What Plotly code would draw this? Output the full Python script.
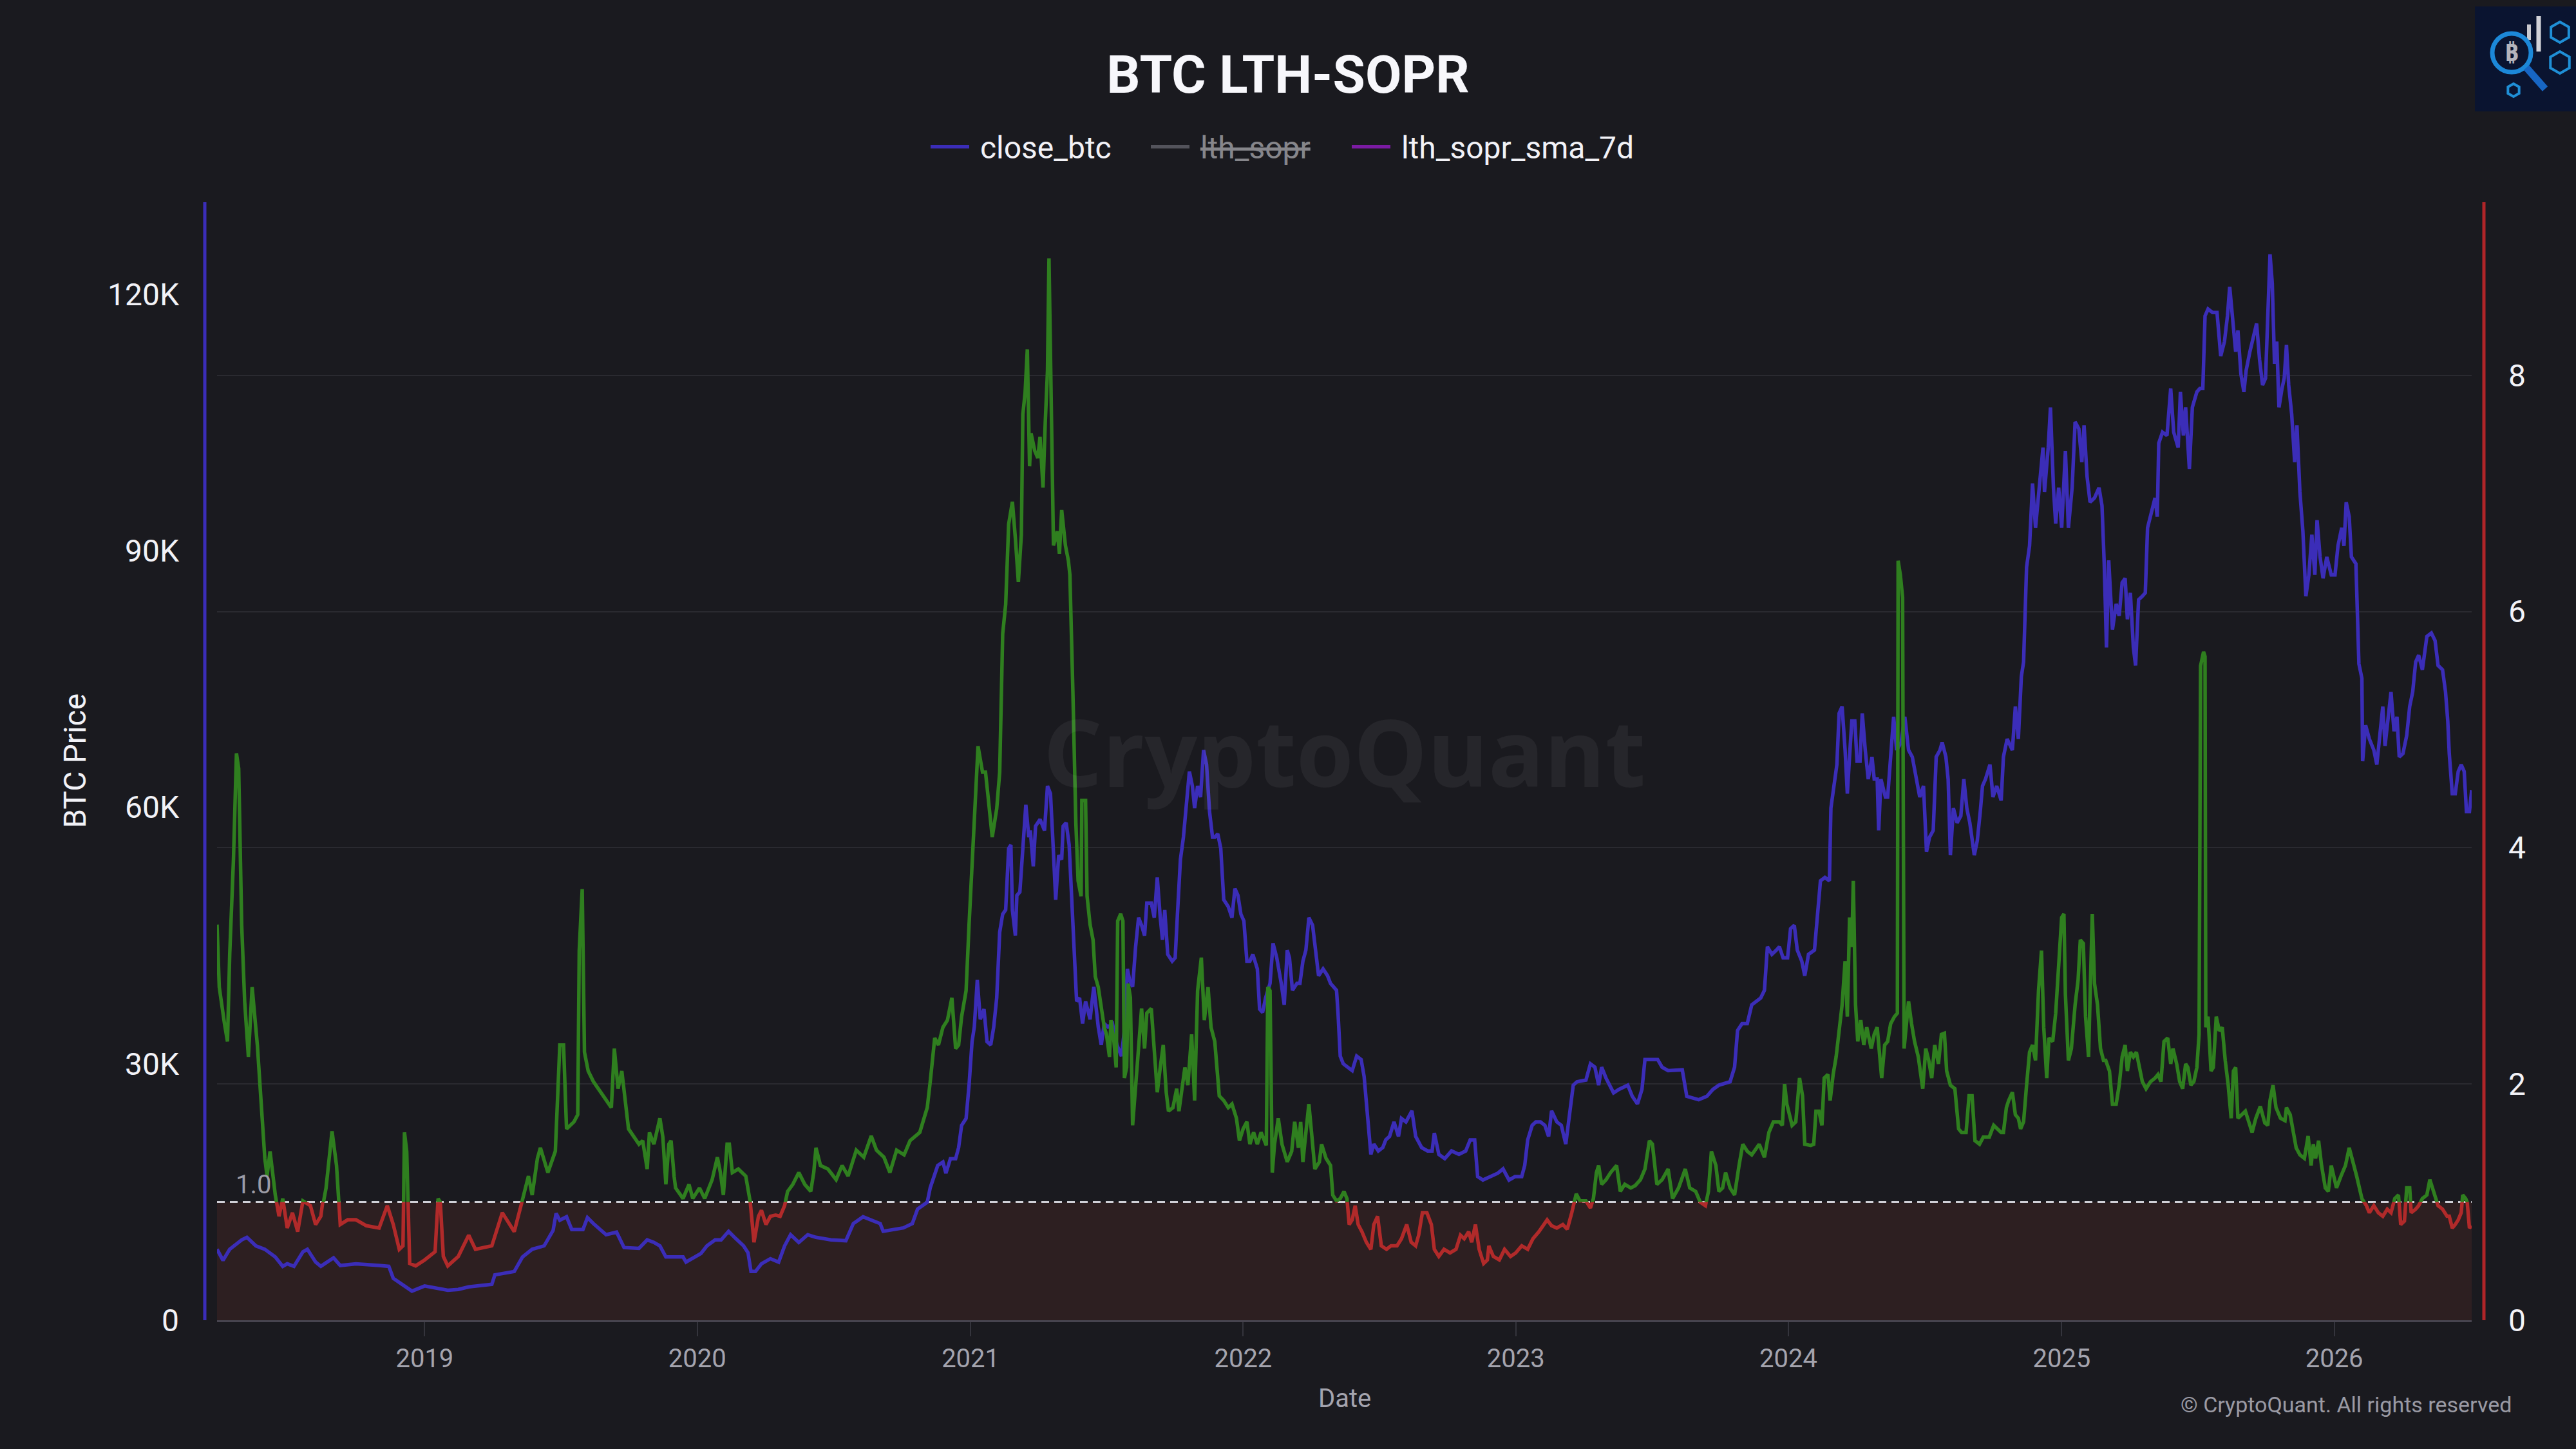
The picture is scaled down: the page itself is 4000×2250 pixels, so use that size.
import math
import plotly.graph_objects as go

# %% 1. Data (dates, BTC close in USD, LTH-SOPR 7d SMA)
close_btc = [
    ("2018-03-29", 8300), ("2018-04-06", 7000), ("2018-04-15", 8300), ("2018-05-01", 9400),
    ("2018-05-08", 9700), ("2018-05-20", 8700), ("2018-06-01", 8300), ("2018-06-15", 7400),
    ("2018-06-25", 6300), ("2018-07-01", 6600), ("2018-07-10", 6300), ("2018-07-22", 8000),
    ("2018-07-28", 8300), ("2018-08-08", 6800), ("2018-08-15", 6300), ("2018-09-01", 7300),
    ("2018-09-10", 6400), ("2018-10-01", 6600), ("2018-11-01", 6400), ("2018-11-14", 6300),
    ("2018-11-20", 4900), ("2018-12-01", 4200), ("2018-12-15", 3400), ("2019-01-01", 4000),
    ("2019-01-15", 3800), ("2019-02-01", 3500), ("2019-02-15", 3600), ("2019-03-01", 3900),
    ("2019-04-01", 4200), ("2019-04-05", 5300), ("2019-05-01", 5700), ("2019-05-12", 7400),
    ("2019-05-25", 8300), ("2019-06-10", 8700), ("2019-06-22", 10500), ("2019-06-26", 12500),
    ("2019-07-01", 11700), ("2019-07-10", 12100), ("2019-07-17", 10600), ("2019-08-01", 10600),
    ("2019-08-07", 12000), ("2019-08-15", 11300), ("2019-09-01", 10000), ("2019-09-15", 10300),
    ("2019-09-25", 8500), ("2019-10-15", 8400), ("2019-10-26", 9400), ("2019-11-04", 9100),
    ("2019-11-12", 8700), ("2019-11-20", 7400), ("2019-12-01", 7400), ("2019-12-13", 7400),
    ("2019-12-17", 6800), ("2019-12-26", 7200), ("2020-01-06", 7800), ("2020-01-14", 8700),
    ("2020-01-25", 9400), ("2020-02-02", 9400), ("2020-02-12", 10400), ("2020-02-21", 9600),
    ("2020-03-03", 8700), ("2020-03-09", 7900), ("2020-03-13", 5700), ("2020-03-19", 5700),
    ("2020-03-27", 6600), ("2020-04-08", 7200), ("2020-04-19", 6800), ("2020-04-27", 8700),
    ("2020-05-05", 10000), ("2020-05-16", 9100), ("2020-05-28", 10000), ("2020-06-08", 9700),
    ("2020-06-28", 9400), ("2020-07-18", 9300), ("2020-07-28", 11300), ("2020-08-10", 12100),
    ("2020-08-22", 11700), ("2020-09-02", 11300), ("2020-09-06", 10400), ("2020-09-18", 10600),
    ("2020-10-03", 10800), ("2020-10-15", 11300), ("2020-10-22", 13000), ("2020-11-04", 13800),
    ("2020-11-08", 15500), ("2020-11-18", 18100), ("2020-11-25", 18500), ("2020-11-29", 17200),
    ("2020-12-05", 18900), ("2020-12-12", 18900), ("2020-12-16", 20200), ("2020-12-20", 22800),
    ("2020-12-26", 23600), ("2020-12-30", 27500), ("2021-01-03", 32600), ("2021-01-06", 34300),
    ("2021-01-10", 39800), ("2021-01-14", 35200), ("2021-01-19", 36400), ("2021-01-23", 32600),
    ("2021-01-28", 32200), ("2021-02-01", 34300), ("2021-02-05", 37700), ("2021-02-09", 45400),
    ("2021-02-13", 47500), ("2021-02-17", 48000), ("2021-02-21", 55200), ("2021-02-24", 55600),
    ("2021-02-26", 48000), ("2021-03-02", 45000), ("2021-03-04", 49700), ("2021-03-08", 50100),
    ("2021-03-11", 53900), ("2021-03-13", 56500), ("2021-03-16", 60300), ("2021-03-20", 56500),
    ("2021-03-22", 57300), ("2021-03-26", 53100), ("2021-03-29", 57800), ("2021-04-04", 58600),
    ("2021-04-10", 57300), ("2021-04-14", 62500), ("2021-04-18", 61600), ("2021-04-21", 56500),
    ("2021-04-25", 49200), ("2021-04-29", 54400), ("2021-05-03", 53900), ("2021-05-05", 57800),
    ("2021-05-09", 58200), ("2021-05-13", 55600), ("2021-05-16", 49700), ("2021-05-20", 42800),
    ("2021-05-23", 37300), ("2021-05-27", 37700), ("2021-05-31", 34700), ("2021-06-04", 37300),
    ("2021-06-10", 35200), ("2021-06-15", 39000), ("2021-06-21", 34300), ("2021-06-25", 32200),
    ("2021-06-29", 34700), ("2021-07-04", 34300), ("2021-07-10", 34700), ("2021-07-16", 32200),
    ("2021-07-22", 30900), ("2021-07-26", 33900), ("2021-07-30", 41100), ("2021-08-02", 39800),
    ("2021-08-06", 39000), ("2021-08-10", 43700), ("2021-08-14", 47100), ("2021-08-18", 46200),
    ("2021-08-22", 45000), ("2021-08-25", 48800), ("2021-08-31", 48800), ("2021-09-04", 47100),
    ("2021-09-08", 51800), ("2021-09-12", 47100), ("2021-09-15", 44500), ("2021-09-18", 48000),
    ("2021-09-22", 42800), ("2021-09-28", 42000), ("2021-10-02", 42400), ("2021-10-05", 47500),
    ("2021-10-09", 53900), ("2021-10-13", 56500), ("2021-10-17", 60800), ("2021-10-21", 64200),
    ("2021-10-25", 62500), ("2021-10-28", 59900), ("2021-11-01", 62500), ("2021-11-05", 61200),
    ("2021-11-09", 66700), ("2021-11-13", 65000), ("2021-11-17", 59500), ("2021-11-21", 56500),
    ("2021-11-24", 56500), ("2021-11-28", 56900), ("2021-12-02", 55200), ("2021-12-06", 49200),
    ("2021-12-12", 48400), ("2021-12-17", 47100), ("2021-12-21", 50500), ("2021-12-25", 49700),
    ("2021-12-29", 47500), ("2022-01-02", 46700), ("2022-01-06", 42000), ("2022-01-10", 42000),
    ("2022-01-14", 42800), ("2022-01-20", 41100), ("2022-01-23", 36400), ("2022-01-27", 36000),
    ("2022-01-31", 37700), ("2022-02-06", 39400), ("2022-02-10", 44100), ("2022-02-15", 42400),
    ("2022-02-21", 39400), ("2022-02-25", 36900), ("2022-03-01", 43300), ("2022-03-04", 42400),
    ("2022-03-08", 38600), ("2022-03-14", 39400), ("2022-03-18", 39400), ("2022-03-22", 42000),
    ("2022-03-26", 43300), ("2022-03-30", 47100), ("2022-04-04", 46200), ("2022-04-08", 42800),
    ("2022-04-12", 40300), ("2022-04-18", 41100), ("2022-04-24", 40300), ("2022-04-28", 39400),
    ("2022-05-02", 39000), ("2022-05-06", 38600), ("2022-05-08", 36000), ("2022-05-11", 30900),
    ("2022-05-15", 30000), ("2022-05-21", 29600), ("2022-05-27", 29200), ("2022-06-02", 30900),
    ("2022-06-08", 30500), ("2022-06-12", 28500), ("2022-06-17", 23600), ("2022-06-21", 19400),
    ("2022-06-25", 20600), ("2022-07-01", 19800), ("2022-07-07", 20200), ("2022-07-11", 21100),
    ("2022-07-16", 21500), ("2022-07-22", 23200), ("2022-07-28", 21500), ("2022-08-01", 23600),
    ("2022-08-07", 23200), ("2022-08-15", 24500), ("2022-08-20", 21500), ("2022-08-28", 20200),
    ("2022-09-05", 19800), ("2022-09-11", 19800), ("2022-09-14", 21900), ("2022-09-20", 19400),
    ("2022-09-28", 18900), ("2022-10-07", 19800), ("2022-10-17", 19400), ("2022-10-26", 19800),
    ("2022-11-01", 21100), ("2022-11-07", 21100), ("2022-11-11", 16800), ("2022-11-18", 16400),
    ("2022-11-28", 16800), ("2022-12-08", 17200), ("2022-12-15", 17700), ("2022-12-23", 16400),
    ("2022-12-31", 16800), ("2023-01-09", 16800), ("2023-01-13", 18100), ("2023-01-17", 21100),
    ("2023-01-23", 22800), ("2023-01-28", 23200), ("2023-02-03", 23200), ("2023-02-09", 22800),
    ("2023-02-14", 21500), ("2023-02-18", 24500), ("2023-02-25", 23200), ("2023-03-03", 22800),
    ("2023-03-09", 20600), ("2023-03-13", 23600), ("2023-03-19", 27500), ("2023-03-24", 27900),
    ("2023-04-05", 28100), ("2023-04-11", 30000), ("2023-04-17", 29600), ("2023-04-22", 27500),
    ("2023-04-26", 29600), ("2023-05-02", 28300), ("2023-05-12", 26600), ("2023-05-19", 27000),
    ("2023-05-31", 27500), ("2023-06-06", 26200), ("2023-06-13", 25300), ("2023-06-19", 27000),
    ("2023-06-23", 30500), ("2023-07-01", 30500), ("2023-07-10", 30500), ("2023-07-16", 29600),
    ("2023-07-24", 29200), ("2023-08-12", 29300), ("2023-08-18", 26200), ("2023-09-03", 25800),
    ("2023-09-14", 26200), ("2023-09-22", 27000), ("2023-09-30", 27500), ("2023-10-15", 27900),
    ("2023-10-21", 29600), ("2023-10-25", 33900), ("2023-10-31", 34700), ("2023-11-07", 34700),
    ("2023-11-13", 36900), ("2023-11-25", 37700), ("2023-11-30", 38600), ("2023-12-04", 43700),
    ("2023-12-10", 42800), ("2023-12-16", 43300), ("2023-12-20", 43700), ("2023-12-25", 42400),
    ("2023-12-31", 42400), ("2024-01-04", 45800), ("2024-01-09", 46200), ("2024-01-13", 43300),
    ("2024-01-19", 42000), ("2024-01-23", 40300), ("2024-01-28", 42800), ("2024-02-05", 43300),
    ("2024-02-09", 47100), ("2024-02-13", 51400), ("2024-02-19", 51800), ("2024-02-25", 51400),
    ("2024-02-27", 59900), ("2024-03-02", 62500), ("2024-03-06", 65000), ("2024-03-09", 71000),
    ("2024-03-13", 71800), ("2024-03-17", 66700), ("2024-03-20", 61600), ("2024-03-23", 66000),
    ("2024-03-26", 70100), ("2024-03-30", 70100), ("2024-04-02", 65400), ("2024-04-06", 65400),
    ("2024-04-09", 71000), ("2024-04-13", 66700), ("2024-04-17", 63300), ("2024-04-22", 65900),
    ("2024-04-25", 63300), ("2024-04-29", 63300), ("2024-05-01", 57300), ("2024-05-04", 63300),
    ("2024-05-10", 61200), ("2024-05-13", 61200), ("2024-05-17", 66700), ("2024-05-21", 70600),
    ("2024-05-25", 66700), ("2024-05-31", 67600), ("2024-06-05", 70600), ("2024-06-10", 66700),
    ("2024-06-15", 65900), ("2024-06-21", 63300), ("2024-06-25", 61200), ("2024-06-30", 62500),
    ("2024-07-04", 54800), ("2024-07-08", 56500), ("2024-07-13", 57300), ("2024-07-17", 65900),
    ("2024-07-22", 66700), ("2024-07-25", 67600), ("2024-07-30", 65900), ("2024-08-02", 63300),
    ("2024-08-05", 54400), ("2024-08-09", 59900), ("2024-08-14", 58200), ("2024-08-19", 59000),
    ("2024-08-23", 63300), ("2024-08-27", 59900), ("2024-08-31", 58200), ("2024-09-06", 54400),
    ("2024-09-10", 56100), ("2024-09-14", 59500), ("2024-09-17", 62500), ("2024-09-21", 63300),
    ("2024-09-27", 65000), ("2024-10-01", 61200), ("2024-10-06", 62500), ("2024-10-12", 60800),
    ("2024-10-15", 65900), ("2024-10-20", 68000), ("2024-10-27", 66700), ("2024-10-31", 71800),
    ("2024-11-04", 68000), ("2024-11-08", 75300), ("2024-11-11", 77000), ("2024-11-15", 88100),
    ("2024-11-19", 90600), ("2024-11-23", 97900), ("2024-11-27", 92700), ("2024-12-01", 96500),
    ("2024-12-07", 102100), ("2024-12-09", 96900), ("2024-12-14", 102100), ("2024-12-17", 106800),
    ("2024-12-21", 97400), ("2024-12-24", 93200), ("2024-12-28", 97400), ("2025-01-01", 92700),
    ("2025-01-06", 101700), ("2025-01-10", 92700), ("2025-01-15", 97400), ("2025-01-19", 105100),
    ("2025-01-24", 104300), ("2025-01-28", 100400), ("2025-01-31", 104700), ("2025-02-04", 98700),
    ("2025-02-08", 95700), ("2025-02-14", 96200), ("2025-02-20", 97400), ("2025-02-24", 95300),
    ("2025-02-27", 88500), ("2025-03-02", 78700), ("2025-03-05", 88900), ("2025-03-10", 80800),
    ("2025-03-15", 83800), ("2025-03-19", 82400), ("2025-03-23", 86300), ("2025-03-27", 86800),
    ("2025-03-30", 82000), ("2025-04-03", 85100), ("2025-04-07", 78700), ("2025-04-10", 76600),
    ("2025-04-14", 84300), ("2025-04-19", 84700), ("2025-04-23", 85100), ("2025-04-26", 92700),
    ("2025-05-02", 94900), ("2025-05-06", 96200), ("2025-05-09", 94000), ("2025-05-11", 102600),
    ("2025-05-16", 103900), ("2025-05-22", 103500), ("2025-05-27", 109000), ("2025-05-31", 103900),
    ("2025-06-06", 102100), ("2025-06-09", 108600), ("2025-06-13", 103500), ("2025-06-16", 106800),
    ("2025-06-21", 99600), ("2025-06-25", 106800), ("2025-07-01", 108600), ("2025-07-05", 109000),
    ("2025-07-09", 109000), ("2025-07-12", 117500), ("2025-07-16", 118300), ("2025-07-22", 117900),
    ("2025-07-28", 117900), ("2025-08-02", 112800), ("2025-08-07", 114500), ("2025-08-11", 117500),
    ("2025-08-14", 120900), ("2025-08-18", 116600), ("2025-08-22", 113300), ("2025-08-25", 115800),
    ("2025-08-29", 110700), ("2025-09-02", 108600), ("2025-09-05", 111100), ("2025-09-10", 113300),
    ("2025-09-14", 114900), ("2025-09-19", 116600), ("2025-09-23", 112400), ("2025-09-27", 109400),
    ("2025-10-01", 110200), ("2025-10-04", 117500), ("2025-10-07", 124700), ("2025-10-10", 121300),
    ("2025-10-13", 111900), ("2025-10-16", 114500), ("2025-10-19", 106800), ("2025-10-23", 109000),
    ("2025-10-26", 110200), ("2025-10-29", 114100), ("2025-11-01", 109400), ("2025-11-05", 106000),
    ("2025-11-09", 100400), ("2025-11-12", 104700), ("2025-11-16", 96900), ("2025-11-20", 92300),
    ("2025-11-24", 84700), ("2025-11-28", 87200), ("2025-12-02", 91900), ("2025-12-06", 87200),
    ("2025-12-09", 93600), ("2025-12-13", 89300), ("2025-12-17", 86800), ("2025-12-22", 89300),
    ("2025-12-28", 87200), ("2026-01-02", 87200), ("2026-01-06", 90600), ("2026-01-11", 92700),
    ("2026-01-14", 90600), ("2026-01-17", 95700), ("2026-01-21", 94000), ("2026-01-24", 89300),
    ("2026-01-30", 88500), ("2026-02-03", 76800), ("2026-02-07", 75100), ("2026-02-08", 65400),
    ("2026-02-12", 69600), ("2026-02-17", 68000), ("2026-02-23", 66700), ("2026-02-27", 65000),
    ("2026-03-03", 68000), ("2026-03-07", 71800), ("2026-03-10", 67200), ("2026-03-15", 71800),
    ("2026-03-18", 73500), ("2026-03-22", 68900), ("2026-03-26", 70600), ("2026-03-29", 65900),
    ("2026-04-03", 66300), ("2026-04-08", 68400), ("2026-04-12", 71800), ("2026-04-16", 73500),
    ("2026-04-20", 77000), ("2026-04-24", 77800), ("2026-04-29", 76100), ("2026-05-05", 80000),
    ("2026-05-11", 80400), ("2026-05-16", 79500), ("2026-05-20", 76600), ("2026-05-26", 76100),
    ("2026-05-30", 73500), ("2026-06-02", 70100), ("2026-06-04", 66300), ("2026-06-08", 61600),
    ("2026-06-12", 61600), ("2026-06-16", 64200), ("2026-06-20", 65000), ("2026-06-24", 64200),
    ("2026-06-27", 59500), ("2026-07-01", 59500), ("2026-07-04", 62000),
]

lth_sopr_sma_7d = [
    ("2018-03-29", 3.35), ("2018-04-01", 2.82), ("2018-04-08", 2.51), ("2018-04-12", 2.36),
    ("2018-04-15", 3.10), ("2018-04-20", 3.90), ("2018-04-24", 4.80), ("2018-04-27", 4.67),
    ("2018-05-01", 3.35), ("2018-05-05", 2.70), ("2018-05-10", 2.23), ("2018-05-15", 2.82),
    ("2018-05-22", 2.33), ("2018-06-01", 1.37), ("2018-06-04", 1.22), ("2018-06-08", 1.43),
    ("2018-06-15", 1.06), ("2018-06-20", 0.88), ("2018-06-25", 1.03), ("2018-07-01", 0.78),
    ("2018-07-08", 0.91), ("2018-07-15", 0.75), ("2018-07-22", 1.01), ("2018-08-01", 0.97),
    ("2018-08-08", 0.81), ("2018-08-15", 0.88), ("2018-08-22", 1.12), ("2018-08-30", 1.60),
    ("2018-09-05", 1.31), ("2018-09-10", 0.81), ("2018-09-20", 0.85), ("2018-10-01", 0.85),
    ("2018-10-15", 0.80), ("2018-11-01", 0.78), ("2018-11-12", 0.97), ("2018-11-20", 0.81),
    ("2018-11-28", 0.60), ("2018-12-03", 0.63), ("2018-12-05", 1.59), ("2018-12-08", 1.43),
    ("2018-12-12", 0.48), ("2018-12-20", 0.46), ("2019-01-01", 0.51), ("2019-01-15", 0.58),
    ("2019-01-19", 1.03), ("2019-01-22", 1.00), ("2019-01-26", 0.54), ("2019-02-01", 0.46),
    ("2019-02-15", 0.54), ("2019-03-01", 0.72), ("2019-03-10", 0.60), ("2019-04-01", 0.63),
    ("2019-04-15", 0.91), ("2019-05-01", 0.75), ("2019-05-10", 0.97), ("2019-05-20", 1.22),
    ("2019-05-25", 1.06), ("2019-06-01", 1.37), ("2019-06-05", 1.46), ("2019-06-15", 1.25),
    ("2019-06-25", 1.43), ("2019-07-01", 2.33), ("2019-07-06", 2.33), ("2019-07-10", 1.62),
    ("2019-07-20", 1.68), ("2019-07-25", 1.74), ("2019-07-27", 3.13), ("2019-07-31", 3.65),
    ("2019-08-03", 2.27), ("2019-08-08", 2.11), ("2019-08-15", 2.02), ("2019-09-01", 1.86),
    ("2019-09-08", 1.80), ("2019-09-12", 2.30), ("2019-09-17", 1.96), ("2019-09-22", 2.11),
    ("2019-10-01", 1.62), ("2019-10-15", 1.49), ("2019-10-20", 1.52), ("2019-10-26", 1.28),
    ("2019-10-29", 1.59), ("2019-11-04", 1.49), ("2019-11-12", 1.71), ("2019-11-16", 1.55),
    ("2019-11-20", 1.15), ("2019-11-24", 1.49), ("2019-11-27", 1.52), ("2019-12-01", 1.22),
    ("2019-12-03", 1.12), ("2019-12-13", 1.03), ("2019-12-21", 1.15), ("2019-12-26", 1.03),
    ("2020-01-04", 1.12), ("2020-01-11", 1.03), ("2020-01-21", 1.19), ("2020-01-28", 1.38),
    ("2020-02-01", 1.25), ("2020-02-05", 1.06), ("2020-02-10", 1.49), ("2020-02-13", 1.49),
    ("2020-02-17", 1.25), ("2020-02-25", 1.28), ("2020-03-06", 1.22), ("2020-03-12", 1.00),
    ("2020-03-17", 0.66), ("2020-03-23", 0.88), ("2020-03-27", 0.93), ("2020-04-02", 0.81),
    ("2020-04-08", 0.88), ("2020-04-15", 0.89), ("2020-04-21", 0.88), ("2020-04-27", 0.97),
    ("2020-05-01", 1.09), ("2020-05-08", 1.15), ("2020-05-16", 1.25), ("2020-05-24", 1.15),
    ("2020-06-01", 1.09), ("2020-06-05", 1.25), ("2020-06-08", 1.46), ("2020-06-14", 1.31),
    ("2020-06-24", 1.28), ("2020-07-05", 1.19), ("2020-07-13", 1.31), ("2020-07-21", 1.22),
    ("2020-08-01", 1.44), ("2020-08-11", 1.38), ("2020-08-21", 1.56), ("2020-08-28", 1.44),
    ("2020-09-07", 1.38), ("2020-09-15", 1.25), ("2020-09-24", 1.44), ("2020-10-04", 1.40),
    ("2020-10-12", 1.52), ("2020-10-25", 1.59), ("2020-11-04", 1.80), ("2020-11-08", 2.02),
    ("2020-11-14", 2.39), ("2020-11-19", 2.33), ("2020-11-25", 2.48), ("2020-12-01", 2.54),
    ("2020-12-07", 2.73), ("2020-12-12", 2.30), ("2020-12-16", 2.33), ("2020-12-20", 2.57),
    ("2020-12-26", 2.79), ("2020-12-30", 3.35), ("2021-01-06", 4.21), ("2021-01-11", 4.86),
    ("2021-01-17", 4.64), ("2021-01-21", 4.64), ("2021-01-25", 4.40), ("2021-01-30", 4.09),
    ("2021-02-05", 4.33), ("2021-02-09", 4.64), ("2021-02-13", 5.81), ("2021-02-17", 6.06),
    ("2021-02-21", 6.74), ("2021-02-26", 6.93), ("2021-03-02", 6.62), ("2021-03-06", 6.25),
    ("2021-03-10", 6.65), ("2021-03-12", 7.67), ("2021-03-15", 7.85), ("2021-03-18", 8.22),
    ("2021-03-21", 7.23), ("2021-03-23", 7.51), ("2021-03-28", 7.36), ("2021-04-01", 7.30),
    ("2021-04-04", 7.48), ("2021-04-08", 7.05), ("2021-04-11", 7.60), ("2021-04-14", 8.04),
    ("2021-04-16", 8.99), ("2021-04-19", 7.91), ("2021-04-22", 6.56), ("2021-04-27", 6.68),
    ("2021-04-30", 6.49), ("2021-05-03", 6.86), ("2021-05-08", 6.56), ("2021-05-12", 6.43),
    ("2021-05-14", 6.31), ("2021-05-18", 5.32), ("2021-05-22", 4.21), ("2021-05-25", 3.72),
    ("2021-05-29", 3.59), ("2021-05-30", 4.40), ("2021-06-04", 4.40), ("2021-06-06", 3.59),
    ("2021-06-10", 3.35), ("2021-06-14", 3.22), ("2021-06-17", 2.91), ("2021-06-21", 2.82),
    ("2021-06-25", 2.67), ("2021-06-29", 2.48), ("2021-07-02", 2.42), ("2021-07-06", 2.23),
    ("2021-07-08", 2.54), ("2021-07-12", 2.36), ("2021-07-15", 2.14), ("2021-07-17", 3.38),
    ("2021-07-21", 3.44), ("2021-07-24", 3.38), ("2021-07-26", 2.05), ("2021-07-29", 2.14),
    ("2021-07-31", 2.85), ("2021-08-03", 2.73), ("2021-08-06", 1.65), ("2021-08-10", 1.96),
    ("2021-08-14", 2.27), ("2021-08-18", 2.64), ("2021-08-22", 2.30), ("2021-08-25", 2.60),
    ("2021-08-31", 2.64), ("2021-09-04", 2.23), ("2021-09-08", 1.93), ("2021-09-12", 2.14),
    ("2021-09-16", 2.33), ("2021-09-20", 1.93), ("2021-09-23", 1.77), ("2021-09-29", 1.80),
    ("2021-10-04", 1.96), ("2021-10-07", 1.77), ("2021-10-11", 1.96), ("2021-10-15", 2.14),
    ("2021-10-19", 1.99), ("2021-10-24", 2.42), ("2021-10-28", 1.86), ("2021-11-01", 2.79),
    ("2021-11-06", 3.07), ("2021-11-10", 2.54), ("2021-11-15", 2.82), ("2021-11-19", 2.48),
    ("2021-11-24", 2.36), ("2021-11-30", 1.90), ("2021-12-06", 1.86), ("2021-12-12", 1.80),
    ("2021-12-17", 1.83), ("2021-12-23", 1.71), ("2021-12-27", 1.52), ("2022-01-01", 1.62),
    ("2022-01-06", 1.68), ("2022-01-10", 1.49), ("2022-01-15", 1.59), ("2022-01-20", 1.49),
    ("2022-01-25", 1.59), ("2022-02-01", 1.48), ("2022-02-03", 2.82), ("2022-02-06", 2.79),
    ("2022-02-09", 1.25), ("2022-02-12", 1.49), ("2022-02-17", 1.71), ("2022-02-22", 1.49),
    ("2022-03-01", 1.34), ("2022-03-07", 1.43), ("2022-03-11", 1.68), ("2022-03-16", 1.46),
    ("2022-03-19", 1.68), ("2022-03-22", 1.34), ("2022-03-26", 1.59), ("2022-03-30", 1.83),
    ("2022-04-03", 1.56), ("2022-04-07", 1.28), ("2022-04-13", 1.34), ("2022-04-16", 1.49),
    ("2022-04-22", 1.37), ("2022-04-28", 1.31), ("2022-05-01", 1.06), ("2022-05-06", 1.01),
    ("2022-05-11", 1.03), ("2022-05-16", 1.09), ("2022-05-20", 1.03), ("2022-05-23", 0.81),
    ("2022-05-27", 0.85), ("2022-05-31", 0.97), ("2022-06-04", 0.81), ("2022-06-09", 0.75),
    ("2022-06-15", 0.66), ("2022-06-21", 0.60), ("2022-06-25", 0.81), ("2022-06-30", 0.88),
    ("2022-07-05", 0.63), ("2022-07-12", 0.60), ("2022-07-18", 0.63), ("2022-07-26", 0.63),
    ("2022-08-01", 0.69), ("2022-08-08", 0.81), ("2022-08-14", 0.66), ("2022-08-20", 0.63),
    ("2022-08-24", 0.72), ("2022-08-29", 0.91), ("2022-09-04", 0.91), ("2022-09-10", 0.81),
    ("2022-09-14", 0.60), ("2022-09-20", 0.54), ("2022-09-27", 0.60), ("2022-10-05", 0.57),
    ("2022-10-13", 0.60), ("2022-10-19", 0.72), ("2022-10-24", 0.69), ("2022-10-30", 0.75),
    ("2022-11-03", 0.66), ("2022-11-08", 0.81), ("2022-11-13", 0.60), ("2022-11-19", 0.48),
    ("2022-11-24", 0.51), ("2022-11-26", 0.63), ("2022-12-02", 0.54), ("2022-12-10", 0.51),
    ("2022-12-17", 0.60), ("2022-12-25", 0.54), ("2023-01-01", 0.57), ("2023-01-09", 0.63),
    ("2023-01-17", 0.60), ("2023-01-24", 0.69), ("2023-02-01", 0.75), ("2023-02-12", 0.85),
    ("2023-02-18", 0.80), ("2023-02-25", 0.78), ("2023-03-05", 0.81), ("2023-03-11", 0.77),
    ("2023-03-17", 0.91), ("2023-03-23", 1.07), ("2023-03-28", 1.01), ("2023-04-05", 1.01),
    ("2023-04-11", 0.95), ("2023-04-15", 1.03), ("2023-04-19", 1.25), ("2023-04-22", 1.31),
    ("2023-04-26", 1.15), ("2023-05-02", 1.19), ("2023-05-08", 1.25), ("2023-05-16", 1.31),
    ("2023-05-21", 1.09), ("2023-05-27", 1.15), ("2023-06-04", 1.12), ("2023-06-10", 1.14),
    ("2023-06-17", 1.19), ("2023-06-23", 1.28), ("2023-06-29", 1.52), ("2023-07-03", 1.49),
    ("2023-07-09", 1.15), ("2023-07-16", 1.19), ("2023-07-24", 1.28), ("2023-07-30", 1.03),
    ("2023-08-07", 1.12), ("2023-08-16", 1.28), ("2023-08-22", 1.12), ("2023-08-30", 1.09),
    ("2023-09-05", 1.00), ("2023-09-12", 0.97), ("2023-09-16", 1.09), ("2023-09-20", 1.43),
    ("2023-09-26", 1.31), ("2023-09-30", 1.09), ("2023-10-05", 1.12), ("2023-10-09", 1.25),
    ("2023-10-15", 1.12), ("2023-10-21", 1.06), ("2023-10-27", 1.31), ("2023-11-01", 1.49),
    ("2023-11-07", 1.43), ("2023-11-13", 1.40), ("2023-11-23", 1.49), ("2023-11-30", 1.38),
    ("2023-12-06", 1.59), ("2023-12-12", 1.68), ("2023-12-20", 1.68), ("2023-12-24", 1.65),
    ("2023-12-27", 2.00), ("2023-12-30", 1.83), ("2024-01-06", 1.65), ("2024-01-11", 1.68),
    ("2024-01-16", 2.05), ("2024-01-20", 1.90), ("2024-01-23", 1.49), ("2024-01-31", 1.48),
    ("2024-02-04", 1.49), ("2024-02-07", 1.77), ("2024-02-11", 1.77), ("2024-02-15", 1.65),
    ("2024-02-18", 2.05), ("2024-02-23", 2.08), ("2024-02-26", 1.86), ("2024-03-01", 2.08),
    ("2024-03-05", 2.23), ("2024-03-09", 2.48), ("2024-03-13", 2.67), ("2024-03-17", 3.04),
    ("2024-03-20", 2.57), ("2024-03-23", 3.41), ("2024-03-26", 3.16), ("2024-03-28", 3.72),
    ("2024-03-31", 2.67), ("2024-04-03", 2.36), ("2024-04-07", 2.54), ("2024-04-11", 2.33),
    ("2024-04-15", 2.48), ("2024-04-21", 2.30), ("2024-04-25", 2.42), ("2024-04-29", 2.48),
    ("2024-05-02", 2.23), ("2024-05-05", 2.05), ("2024-05-09", 2.33), ("2024-05-13", 2.36),
    ("2024-05-17", 2.51), ("2024-05-22", 2.57), ("2024-05-26", 2.60), ("2024-05-27", 6.43),
    ("2024-05-30", 6.31), ("2024-06-02", 6.12), ("2024-06-04", 2.30), ("2024-06-07", 2.48),
    ("2024-06-10", 2.70), ("2024-06-14", 2.51), ("2024-06-18", 2.36), ("2024-06-23", 2.23),
    ("2024-06-29", 1.96), ("2024-07-03", 2.30), ("2024-07-07", 2.20), ("2024-07-11", 2.05),
    ("2024-07-15", 2.33), ("2024-07-20", 2.17), ("2024-07-24", 2.42), ("2024-07-28", 2.43),
    ("2024-07-31", 2.11), ("2024-08-05", 1.99), ("2024-08-11", 1.96), ("2024-08-16", 1.62),
    ("2024-08-20", 1.59), ("2024-08-26", 1.59), ("2024-08-30", 1.90), ("2024-09-03", 1.90),
    ("2024-09-07", 1.52), ("2024-09-13", 1.49), ("2024-09-18", 1.55), ("2024-09-26", 1.55),
    ("2024-10-02", 1.65), ("2024-10-07", 1.62), ("2024-10-12", 1.59), ("2024-10-15", 1.59),
    ("2024-10-19", 1.80), ("2024-10-22", 1.86), ("2024-10-27", 1.93), ("2024-10-31", 1.74),
    ("2024-11-04", 1.71), ("2024-11-07", 1.62), ("2024-11-11", 1.68), ("2024-11-15", 1.99),
    ("2024-11-19", 2.27), ("2024-11-23", 2.33), ("2024-11-27", 2.20), ("2024-12-01", 2.79),
    ("2024-12-05", 3.13), ("2024-12-08", 2.48), ("2024-12-12", 2.05), ("2024-12-15", 2.39),
    ("2024-12-20", 2.36), ("2024-12-24", 2.60), ("2024-12-28", 2.98), ("2025-01-01", 3.41),
    ("2025-01-04", 3.44), ("2025-01-06", 2.76), ("2025-01-10", 2.20), ("2025-01-14", 2.30),
    ("2025-01-19", 2.67), ("2025-01-23", 2.88), ("2025-01-26", 3.22), ("2025-01-30", 3.19),
    ("2025-02-02", 2.57), ("2025-02-06", 2.23), ("2025-02-08", 2.73), ("2025-02-11", 3.44),
    ("2025-02-14", 2.85), ("2025-02-18", 2.67), ("2025-02-22", 2.30), ("2025-02-26", 2.20),
    ("2025-03-01", 2.20), ("2025-03-06", 2.11), ("2025-03-10", 1.83), ("2025-03-15", 1.83),
    ("2025-03-19", 1.99), ("2025-03-23", 2.23), ("2025-03-27", 2.33), ("2025-03-30", 2.11),
    ("2025-04-03", 2.27), ("2025-04-07", 2.23), ("2025-04-11", 2.27), ("2025-04-15", 2.15),
    ("2025-04-19", 2.02), ("2025-04-24", 1.96), ("2025-04-30", 2.02), ("2025-05-06", 2.05),
    ("2025-05-10", 2.08), ("2025-05-14", 2.02), ("2025-05-18", 2.36), ("2025-05-23", 2.39),
    ("2025-05-27", 2.17), ("2025-05-30", 2.30), ("2025-06-04", 2.17), ("2025-06-08", 2.02),
    ("2025-06-12", 1.96), ("2025-06-16", 2.17), ("2025-06-19", 2.14), ("2025-06-23", 1.99),
    ("2025-06-27", 2.02), ("2025-07-01", 2.14), ("2025-07-04", 2.42), ("2025-07-06", 5.54),
    ("2025-07-10", 5.66), ("2025-07-12", 5.62), ("2025-07-13", 2.48), ("2025-07-16", 2.57),
    ("2025-07-20", 2.11), ("2025-07-23", 2.14), ("2025-07-27", 2.57), ("2025-07-31", 2.45),
    ("2025-08-04", 2.48), ("2025-08-08", 2.20), ("2025-08-12", 1.99), ("2025-08-16", 1.71),
    ("2025-08-19", 2.11), ("2025-08-22", 2.14), ("2025-08-25", 1.71), ("2025-08-30", 1.74),
    ("2025-09-04", 1.77), ("2025-09-09", 1.67), ("2025-09-13", 1.59), ("2025-09-18", 1.71),
    ("2025-09-24", 1.81), ("2025-09-30", 1.67), ("2025-10-04", 1.65), ("2025-10-07", 1.86),
    ("2025-10-11", 1.99), ("2025-10-15", 1.80), ("2025-10-21", 1.71), ("2025-10-27", 1.69),
    ("2025-10-29", 1.80), ("2025-11-03", 1.74), ("2025-11-07", 1.59), ("2025-11-11", 1.46),
    ("2025-11-16", 1.40), ("2025-11-22", 1.37), ("2025-11-27", 1.56), ("2025-12-01", 1.31),
    ("2025-12-04", 1.49), ("2025-12-07", 1.37), ("2025-12-11", 1.52), ("2025-12-15", 1.31),
    ("2025-12-20", 1.12), ("2025-12-24", 1.09), ("2025-12-28", 1.31), ("2025-12-31", 1.22),
    ("2026-01-04", 1.12), ("2026-01-10", 1.22), ("2026-01-16", 1.31), ("2026-01-21", 1.46),
    ("2026-01-25", 1.37), ("2026-01-31", 1.22), ("2026-02-07", 1.03), ("2026-02-13", 0.97),
    ("2026-02-17", 0.91), ("2026-02-23", 0.97), ("2026-03-01", 0.91), ("2026-03-07", 0.88),
    ("2026-03-13", 0.94), ("2026-03-18", 0.91), ("2026-03-23", 1.03), ("2026-03-28", 1.06),
    ("2026-03-31", 0.81), ("2026-04-05", 0.84), ("2026-04-08", 1.12), ("2026-04-12", 1.12),
    ("2026-04-14", 0.91), ("2026-04-20", 0.94), ("2026-04-24", 0.97), ("2026-04-29", 1.03),
    ("2026-05-05", 1.06), ("2026-05-09", 1.19), ("2026-05-14", 1.09), ("2026-05-20", 0.97),
    ("2026-05-26", 0.94), ("2026-06-01", 0.88), ("2026-06-04", 0.88), ("2026-06-08", 0.78),
    ("2026-06-12", 0.81), ("2026-06-16", 0.85), ("2026-06-20", 0.91), ("2026-06-22", 1.06),
    ("2026-06-26", 1.03), ("2026-06-28", 1.00), ("2026-07-01", 0.78), ("2026-07-04", 0.80),
]

price_ticks = [0, 30000, 60000, 90000, 120000]
price_tick_text = ["0", "30K", "60K", "90K", "120K"]
sopr_ticks = [0, 2, 4, 6, 8]
threshold = 1.0

price_x, price_y = zip(*close_btc)
sopr_x, sopr_y = zip(*lth_sopr_sma_7d)

# %% 2. Page geometry (pixels of the 4000x2250 page)
W, H = 4000, 2250
L, R, T, B = 337, 3838, 314, 2050
X_RANGE = ["2018-03-29", "2026-07-04"]
PRICE_TOP = 130800
SOPR_TOP = 9.466
D1 = threshold / SOPR_TOP  # height fraction where 1.0 sits

BG = "#1a1a1f"
BLUE = "#3b2db8"
GREEN = "#2f7f1f"
RED = "#b12a2a"
FONT = "Roboto, Inter, sans-serif"
LW = 5.5
NB = "\u00a0"


def fx(px):
    return (px - L) / (R - L)


def fy(py):
    return (B - py) / (B - T)


# %% 3. Traces
fig = go.Figure()
fig.add_trace(go.Scatter(x=price_x, y=price_y, name=NB + "close_btc", mode="lines",
                         line=dict(color=BLUE, width=LW), yaxis="y", legend="legend"))
fig.add_trace(go.Scatter(x=sopr_x, y=sopr_y, name=NB + "<s>lth_sopr</s>", mode="lines",
                         line=dict(color="#8d8d97", width=LW), yaxis="y2",
                         visible="legendonly", legend="legend2"))
fig.add_trace(go.Scatter(x=[None], y=[None], name=NB + "lth_sopr_sma_7d", mode="lines",
                         line=dict(color="#7b1ba3", width=LW), yaxis="y2",
                         legendgroup="sma", legend="legend3"))
# the same series twice: one clipped to the band above 1 (green), one below (red)
fig.add_trace(go.Scatter(x=sopr_x, y=sopr_y, mode="lines", showlegend=False,
                         line=dict(color=GREEN, width=LW), yaxis="y3", legendgroup="sma"))
fig.add_trace(go.Scatter(x=sopr_x, y=sopr_y, mode="lines", showlegend=False,
                         line=dict(color=RED, width=LW), yaxis="y4", legendgroup="sma"))

# %% 4. Shapes: loss zone, 1.0 line, detached axis lines, logo
shapes = [
    dict(type="rect", xref="paper", yref="paper", x0=0, x1=1, y0=0, y1=D1,
         fillcolor="#2d1f21", line=dict(width=0), layer="below"),
    dict(type="line", xref="paper", yref="paper", x0=0, x1=1, y0=D1, y1=D1,
         line=dict(color="#cfcfd6", width=3, dash="12px,8px"), layer="below"),
    dict(type="line", xref="paper", yref="paper", x0=fx(318), x1=fx(318), y0=0, y1=1,
         line=dict(color=BLUE, width=5)),
    dict(type="line", xref="paper", yref="paper", x0=fx(3857), x1=fx(3857), y0=0, y1=1,
         line=dict(color="#b02528", width=5)),
    dict(type="rect", xref="paper", yref="paper", x0=fx(3843), x1=fx(4000), y0=fy(173),
         y1=fy(10), fillcolor="#0a1430", line=dict(width=0)),
    dict(type="line", xref="paper", yref="paper", x0=fx(3927), x1=fx(3927), y0=fy(62),
         y1=fy(38), line=dict(color="#c9c9cf", width=6)),
    dict(type="line", xref="paper", yref="paper", x0=fx(3942), x1=fx(3942), y0=fy(80),
         y1=fy(25), line=dict(color="#d2d2d8", width=7)),
    dict(type="circle", xref="paper", yref="paper", x0=fx(3870), x1=fx(3930), y0=fy(112),
         y1=fy(52), line=dict(color="#1c88d8", width=7)),
    dict(type="line", xref="paper", yref="paper", x0=fx(3923), x1=fx(3952), y0=fy(105),
         y1=fy(138), line=dict(color="#1766c4", width=11)),
]


def hexagon(cx, cy, r):
    pts = []
    for k in range(6):
        a = math.radians(30 + 60 * k)
        pts.append(f"{fx(cx + r * math.cos(a)):.5f},{fy(cy + r * math.sin(a)):.5f}")
    return "M " + " L ".join(pts) + " Z"


for cx, cy, r in [(3975, 50, 16), (3975, 97, 17), (3903, 140, 10)]:
    shapes.append(dict(type="path", xref="paper", yref="paper", path=hexagon(cx, cy, r),
                       line=dict(color="#1f8fd6", width=4)))

# %% 5. Annotations
annotations = [
    dict(text="CryptoQuant", xref="paper", yref="paper", x=0.5, y=fy(1166),
         xanchor="center", yanchor="middle", showarrow=False,
         font=dict(family="Open Sans, Lato, sans-serif", size=144,
                   color="rgba(255,255,255,0.055)", weight="bold")),
    dict(text="1.0", xref="paper", yref="paper", x=fx(364), y=D1, xanchor="left",
         yanchor="bottom", yshift=2, showarrow=False,
         font=dict(family=FONT, size=40, color="#9c9ca6")),
    dict(text="BTC Price", xref="paper", yref="paper", x=fx(116), y=0.5, textangle=-90,
         xanchor="center", yanchor="middle", showarrow=False,
         font=dict(family=FONT, size=48, color="#f2f2f7")),
    dict(text="Date", xref="paper", yref="paper", x=fx(2088), y=fy(2171),
         xanchor="center", yanchor="middle", showarrow=False,
         font=dict(family=FONT, size=40, color="#a4a4ae")),
    dict(text="© CryptoQuant. All rights reserved", xref="paper", yref="paper",
         x=fx(3902), y=fy(2181), xanchor="right", yanchor="middle", showarrow=False,
         font=dict(family=FONT, size=34, color="#9a9aa4")),
    dict(text="<b>₿</b>", xref="paper", yref="paper", x=fx(3900), y=fy(82),
         xanchor="center", yanchor="middle", showarrow=False,
         font=dict(family="DejaVu Sans, Noto Sans", size=38, color="#b4b4bc")),
]

# %% 6. Layout
legend_style = dict(orientation="h", xanchor="left", xref="container", yanchor="middle",
                    yref="container", y=1 - 228 / H, itemwidth=60,
                    font=dict(family=FONT, size=48, color="#f2f2f7"),
                    bgcolor="rgba(0,0,0,0)", borderwidth=0)

fig.update_layout(
    width=W, height=H, autosize=False,
    paper_bgcolor=BG, plot_bgcolor="rgba(0,0,0,0)",
    margin=dict(l=L, r=W - R, t=T, b=H - B),
    font=dict(family=FONT, color="#f2f2f7"),
    hovermode=False,
    title=dict(text="<b>BTC LTH-SOPR</b>", x=0.5, xanchor="center", xref="container",
               y=1 - 115 / H, yanchor="middle", yref="container",
               font=dict(family=FONT, size=82, color="#f7f7fb")),
    legend=dict(legend_style, x=1440 / W),
    legend2=dict(legend_style, x=1782 / W),
    legend3=dict(legend_style, x=2094 / W),
    xaxis=dict(type="date", range=X_RANGE, anchor="y", tickformat="%Y", dtick="M12",
               tick0="2019-01-01", ticks="outside", ticklen=22, tickwidth=2,
               tickcolor="#34343c", showgrid=False, zeroline=False, showline=True,
               linecolor="#47444f", linewidth=3, ticklabelstandoff=0,
               tickfont=dict(family=FONT, size=40, color="#a4a4ae")),
    yaxis=dict(range=[0, PRICE_TOP], tickvals=price_ticks, ticktext=price_tick_text,
               showgrid=False, zeroline=False, showline=False, ticks="",
               ticklabelstandoff=58, tickfont=dict(family=FONT, size=48, color="#f2f2f7")),
    yaxis2=dict(range=[0, SOPR_TOP], overlaying="y", side="right", anchor="x",
                tickvals=sopr_ticks, showgrid=True, gridcolor="#2a2a30", gridwidth=2,
                zeroline=False, showline=False, ticks="", ticklabelstandoff=56,
                tickfont=dict(family=FONT, size=48, color="#f2f2f7")),
    yaxis3=dict(domain=[D1, 1], range=[threshold, SOPR_TOP], anchor="x", visible=False),
    yaxis4=dict(domain=[0, D1], range=[0, threshold], anchor="x", visible=False),
    shapes=shapes,
    annotations=annotations,
)

# drop the browser's default 8px body margin so the figure sits at the page origin
fig.write_html("out.html", config={"displayModeBar": False},
               post_script="document.body.style.margin='0';")
